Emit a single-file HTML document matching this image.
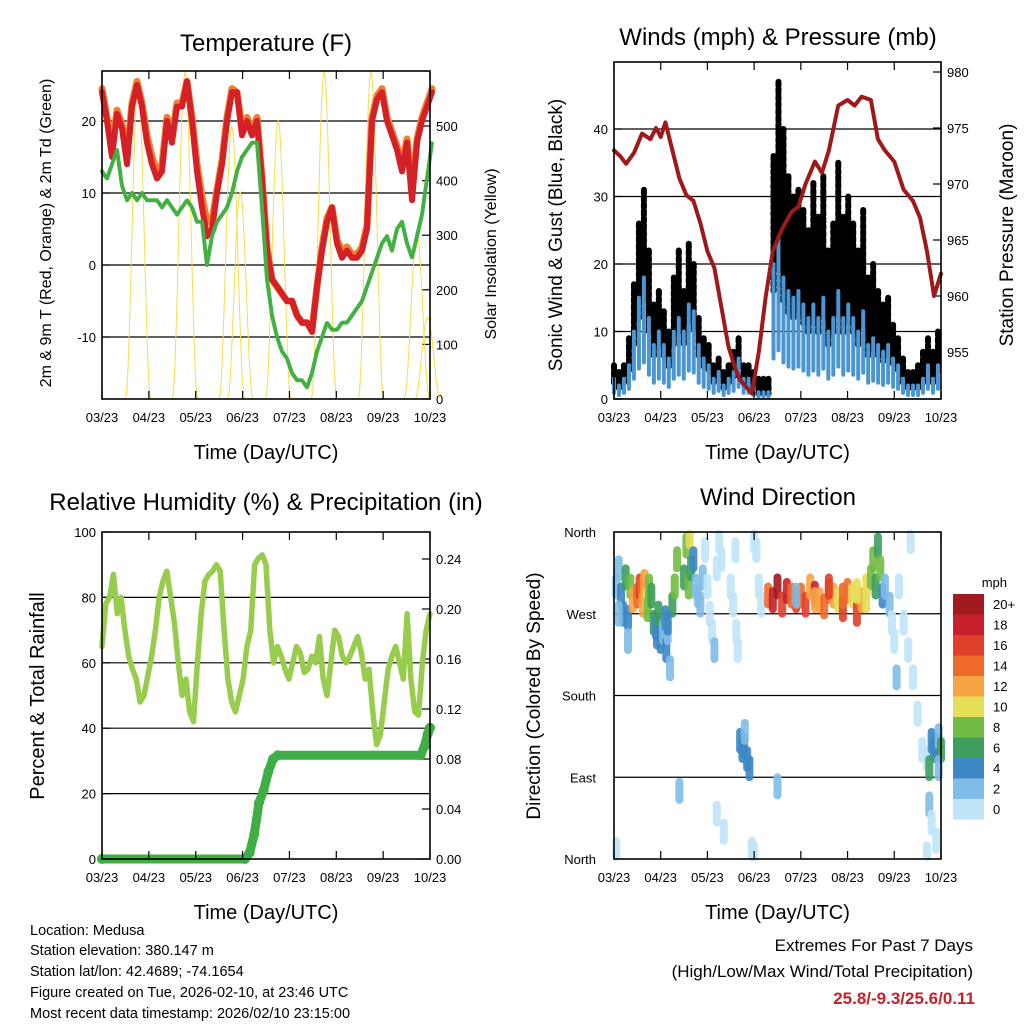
<!DOCTYPE html>
<html><head><meta charset="utf-8"><style>
html,body{margin:0;padding:0;background:#fff;}
svg{display:block;font-family:"Liberation Sans",Arial,sans-serif;}
</style></head><body>
<svg id="chart" width="1024" height="1024" viewBox="0 0 1024 1024" xmlns="http://www.w3.org/2000/svg">
<rect width="1024" height="1024" fill="#fff"/>
<g id="g1"></g>
<g id="g2"></g>
<g id="g3"></g>
<g id="g4"></g>
<g font-size="14.5" fill="#000">
<text x="30" y="935">Location: Medusa</text>
<text x="30" y="955">Station elevation: 380.147 m</text>
<text x="30" y="976">Station lat/lon: 42.4689; -74.1654</text>
<text x="30" y="997">Figure created on Tue, 2026-02-10, at 23:46 UTC</text>
<text x="30" y="1018">Most recent data timestamp: 2026/02/10 23:15:00</text>
</g>
<g text-anchor="end">
<text x="973" y="951" font-size="17">Extremes For Past 7 Days</text>
<text x="973" y="977" font-size="17">(High/Low/Max Wind/Total Precipitation)</text>
<text x="975" y="1004" font-size="17" font-weight="bold" fill="#c8202a">25.8/-9.3/25.6/0.11</text>
</g>
</svg>
<script>
// ---------- data ----------
const xTickLabels = ["03/23","04/23","05/23","06/23","07/23","08/23","09/23","10/23"];
const STEP = 0.1067; // months per sample
const tempRed = [24,20,15,21,19,14,22,25,22,17,14,12,13,20,17,22,22,25.5,20,13,8,4,5,10,14,20,24,24,18,20,18,20,12,2,-2,-3,-4,-5,-5,-7,-8,-8,-9.3,-3,2,6,8,3,1,2,1,1,2,5,20,23,24,20,18,16,13,17,9,17,20,22,24];
const tempOrange = [24.5,20.5,16,21.5,19.5,15,22.5,25.5,22.5,18,15,13,14,20.5,18,22.5,22.5,25.5,20.5,14,9.5,6,6,10.5,14.5,20.5,24.5,24,19,20.5,18.5,20.5,12,2.5,-2,-3,-4,-5,-5,-7,-8,-8,-9,-3,2.5,6.5,8,3.5,2,2.5,1.5,1.5,2.5,5.5,20.5,23.5,24.5,20.5,18.5,16.5,14,17.5,10,17.5,20.5,22.5,24.5];
const tempDew = [13,12,14,16,11,9,10,9,10,9,9,9,8,9,8,7,8,9,8,6,6,0,4,6,7,8,10,13,15,16,17,17,8,-2,-7,-10,-12,-13,-15,-16,-16,-17,-15,-12,-10,-8,-9,-9,-8,-8,-7,-6,-5,-3,-1,1,3,4,2,5,6,3,1,4,7,12,17];
const solarPeakT = [0.77,1.77,2.77,3.76,4.74,5.74,6.72,2.95,6.95];
const solarPeakV = [580,600,500,510,600,600,300,380,150];
const windAvg = [3,2,3,5,10,15,18,12,8,10,8,6,10,12,10,14,13,8,6,5,3,4,2,3,4,6,3,3,2,1,1,1,20,24,18,16,15,16,14,12,14,12,15,10,12,16,12,14,12,10,13,8,9,8,7,8,6,5,3,2,2,2,3,5,3,5];
const windGust = [5,4,5,9,17,26,31,22,14,16,13,10,18,22,16,23,20,12,9,8,5,6,4,5,7,9,5,5,4,3,3,3,36,47,40,33,30,31,28,25,32,27,33,22,26,35,27,30,26,22,28,18,20,16,14,15,11,9,6,4,4,5,7,9,7,10];
const pressT = [0,0.13,0.26,0.43,0.6,0.78,0.9,1.0,1.1,1.25,1.4,1.55,1.7,1.85,2.0,2.15,2.3,2.45,2.6,2.7,2.95,3.1,3.25,3.4,3.6,3.8,3.95,4.1,4.3,4.45,4.6,4.8,5.0,5.15,5.3,5.5,5.65,5.8,6.0,6.2,6.4,6.55,6.7,6.85,7.0];
const pressV = [973,972.5,971.8,972.8,974.5,974,975,974.2,975.5,973,970.5,969,968.5,966.5,964,962.5,959,955.5,953.5,952.5,951.3,955,960,964,966,967.5,968,970,972,971,973,977,977.5,977,977.8,977.5,974,973,972,969.5,968.5,967,964,960,962];
const rhVals = [65,78,80,87,75,80,70,62,58,55,48,50,56,62,70,80,85,88,80,72,60,50,55,45,42,60,75,85,87,88,90,88,70,55,48,45,50,55,65,70,90,92,93,90,70,60,65,62,58,55,60,65,63,57,58,62,60,68,55,50,60,70,68,62,60,62,65,68,63,55,58,45,35,38,48,58,62,65,60,55,75,55,45,44,60,70,75];
const precipT = [0,3.05,3.15,3.25,3.35,3.45,3.55,3.65,3.75,6.8,6.88,6.95,7.0];
const precipV = [0,0,0.005,0.02,0.045,0.055,0.07,0.08,0.083,0.083,0.09,0.1,0.105];
const dirT = [0.05,0.1,0.15,0.2,0.25,0.3,0.3,0.35,0.4,0.5,0.55,0.6,0.62,0.65,0.7,0.72,0.75,0.8,0.85,0.9,0.92,0.95,1.0,1.05,1.1,1.12,1.15,1.2,1.25,1.3,1.35,1.5,1.55,1.6,1.62,1.65,1.7,1.75,1.8,1.85,1.9,1.95,2.0,2.05,2.1,2.15,2.2,2.25,2.3,2.5,2.55,2.6,2.62,2.65,2.7,2.75,2.78,2.8,2.85,2.9,3.0,3.05,3.1,3.15,3.3,3.4,3.5,3.6,3.7,3.8,3.9,4.0,4.1,4.2,4.3,4.4,4.5,4.6,4.7,4.8,4.9,5.0,5.1,5.2,5.3,5.4,5.5,5.55,5.6,5.65,5.7,5.75,5.8,5.9,5.95,6.0,6.05,6.1,6.2,6.3,6.35,6.4,6.5,6.6,6.7,6.75,6.8,6.85,6.9,6.95,7.0,6.95,6.9,6.8,0.05,0.1,1.15,1.4,2.2,2.35,2.95,3.0,6.7,6.75,3.5,3.9,4.3,4.6,4.9,5.2,5.4];
const dirV = [300,320,290,270,310,265,240,300,285,290,300,295,280,305,285,275,300,290,260,255,245,270,240,250,265,230,250,210,280,300,330,310,345,300,355,320,330,300,290,280,310,340,300,270,250,230,320,350,330,300,280,340,250,230,130,120,125,140,110,100,350,340,300,280,290,285,300,280,295,290,285,290,280,300,292,285,278,295,290,285,275,295,290,270,285,300,310,330,300,345,320,290,300,280,260,240,200,300,260,230,350,200,160,120,110,60,130,120,125,135,120,100,20,40,10,270,260,75,50,30,10,5,5,100,80,290,285,300,290,295,285,280];
const dirS = [2,3,4,5,6,4,3,8,12,14,16,15,13,12,10,8,9,7,6,5,4,6,4,3,5,4,3,3,6,8,8,7,9,8,10,6,4,3,2,2,2,1,1,1,1,2,1,1,1,1,1,1,1,1,4,5,4,3,5,4,1,1,1,1,14,18,20,16,19,15,17,14,16,13,18,12,14,15,12,10,16,15,11,16,13,10,8,9,7,6,8,5,3,2,1,1,2,1,1,1,1,1,1,1,1,3,4,5,4,3,6,2,1,1,1,2,4,2,1,1,1,1,1,6,2,3,12,17,14,11,10,18,13];
const cbarLabels = ["20+","18","16","14","12","10","8","6","4","2","0"];
const cbarColors = ["#a11a1e","#c8202a","#e0402a","#ee6a2b","#f6a443","#e6de56","#72bb44","#3d9e5c","#3d87c4","#7fbde6","#bfe4f8"];

// ---------- helpers ----------
const NS = "http://www.w3.org/2000/svg";
function mk(parent, tag, attrs, text) {
  const e = document.createElementNS(NS, tag);
  for (const k in attrs) e.setAttribute(k, attrs[k]);
  if (text !== undefined) e.textContent = text;
  parent.appendChild(e);
  return e;
}
function frame(g, x0, y0, x1, y1) {
  const r = mk(g, "rect", {x:x0, y:y0, width:x1-x0, height:y1-y0, fill:"none", stroke:"#000", "stroke-width":1.6});
  
  
}
function xAxis(g, X, y0, y1, nm) {
  for (let i = 0; i < xTickLabels.length; i++) {
    const x = X(i);
    mk(g, "line", {x1:x, x2:x, y1:y1, y2:y1-8, stroke:"#000", "stroke-width":1.2});
    mk(g, "line", {x1:x, x2:x, y1:y0, y2:y0+8, stroke:"#000", "stroke-width":1.2});
    const t = mk(g, "text", {x:x, y:y1+23, "font-size":13, "text-anchor":"middle"}, xTickLabels[i]);
    
    
  }
  const ti = mk(g, "text", {x:(X(0)+X(7))/2, y:y1+60, "font-size":20, "text-anchor":"middle"}, "Time (Day/UTC)");
  
  
}
function yTicks(g, vals, Y, x, side, fmt, grid, x1) {
  vals.forEach(v => {
    const y = Y(v);
    if (grid) mk(g, "line", {x1:x, x2:x1, y1:y, y2:y, stroke:"#000", "stroke-width":1.2});
    mk(g, "line", {x1:x, x2:x + (side==="left"?8:-8), y1:y, y2:y, stroke:"#000", "stroke-width":1.2});
    const t = mk(g, "text", {x: side==="left"? x-6 : x+6, y:y+5, "font-size":13, "text-anchor": side==="left"?"end":"start"}, fmt(v));
    
    
  });
}
function vTitle(g, x, y, txt, size, nm) {
  const t = mk(g, "text", {x:x, y:y, "font-size":size, "text-anchor":"middle", transform:`rotate(-90 ${x} ${y})`}, txt);
  
  
}
function title(g, x, y, txt, nm) {
  const t = mk(g, "text", {x:x, y:y, "font-size":24, "text-anchor":"middle"}, txt);
  
  
}
function poly(g, pts, stroke, w, nm) {
  const p = mk(g, "polyline", {points: pts.map(p=>p[0].toFixed(1)+","+p[1].toFixed(1)).join(" "), fill:"none", stroke:stroke, "stroke-width":w, "stroke-linejoin":"round", "stroke-linecap":"round"});
  
  
  return p;
}
function spdColor(s) {
  const idx = Math.min(10, Math.max(0, Math.floor(s/2)));
  return cbarColors[10 - idx];
}

// ---------- panel 1: temperature ----------
(function(){
  const g = document.getElementById("g1");
  const X = t => 102 + t*46.86;
  const Y = v => 265 - v*7.2;
  const YS = v => 399 - v*0.546;
  yTicks(g, [-10,0,10,20], Y, 102, "left", v=>String(v), true, 430);
  yTicks(g, [0,100,200,300,400,500], YS, 430, "right", v=>String(v), false);
  solarPeakT.forEach((t,i) => {
    const v = solarPeakV[i];
    const pts = [];
    for (let k = -10; k <= 10; k++) {
      const dt = k*0.027;
      const f = Math.max(0, Math.cos(dt/0.27*Math.PI/2));
      pts.push([X(t+dt), YS(v*f*f)]);
    }
    poly(g, pts, "#f7dc4a", 1, 'solar-insolation-line');
  });
  poly(g, tempOrange.map((v,i)=>[X(i*STEP), Y(v)]), "#f08030", 7, 'temp-9m-orange-line');
  poly(g, tempRed.map((v,i)=>[X(i*STEP), Y(v)]), "#d42027", 6, 'temp-2m-red-line');
  poly(g, tempDew.map((v,i)=>[X(i*STEP), Y(v)]), "#44b044", 4, 'dewpoint-green-line').setAttribute("stroke-dasharray","3 1.5");
  frame(g, 102, 71, 430, 399);
  xAxis(g, X, 71, 399, 'x-axis-title');
  title(g, 266, 51, "Temperature (F)", 'temperature-title');
  vTitle(g, 51, 233, "2m & 9m T (Red, Orange) & 2m Td (Green)", 16, 'y-axis-title');
  vTitle(g, 496, 254, "Solar Insolation (Yellow)", 16, 'y2-axis-title');
})();

// ---------- panel 2: winds ----------
(function(){
  const g = document.getElementById("g2");
  const X = t => 614 + t*46.71;
  const Y = v => 399 - v*6.75;
  const YP = p => 352 - (p-955)*11.2;
  yTicks(g, [0,10,20,30,40], Y, 614, "left", v=>String(v), true, 941);
  yTicks(g, [955,960,965,970,975,980], YP, 941, "right", v=>String(v), false);
  windAvg.forEach((v,i) => {
    const x = X(i*STEP);
    const b = mk(g, "line", {x1:x, x2:x, y1:Y(windGust[i]), y2:Y(v*0.8), stroke:"#000", "stroke-width":6, "stroke-linecap":"round", "stroke-dasharray":"4 3"});
    
    
  });
  windAvg.forEach((v,i) => {
    const x = X(i*STEP);
    const b = mk(g, "line", {x1:x, x2:x, y1:Y(v), y2:Y(v*0.3), stroke:"#4a95d2", "stroke-width":4, "stroke-linecap":"round"});
    
    
  });
  poly(g, pressT.map((t,i)=>[X(t), YP(pressV[i])]), "#9e1a1a", 4, 'pressure-line');
  frame(g, 614, 62, 941, 399);
  xAxis(g, X, 62, 399, 'x-axis-title');
  title(g, 778, 45, "Winds (mph) & Pressure (mb)", 'winds-title');
  vTitle(g, 562, 235, "Sonic Wind & Gust (Blue, Black)", 19, 'y-axis-title');
  vTitle(g, 1013, 235, "Station Pressure (Maroon)", 19, 'y2-axis-title');
})();

// ---------- panel 3: humidity ----------
(function(){
  const g = document.getElementById("g3");
  const X = t => 102 + t*46.86;
  const Y = v => 859 - v*3.27;
  const YR = v => 859 - v*1250;
  yTicks(g, [20,40,60,80], Y, 102, "left", v=>String(v), true, 430);
  yTicks(g, [0,100], Y, 102, "left", v=>String(v), false);
  yTicks(g, [0,0.04,0.08,0.12,0.16,0.20,0.24], YR, 430, "right", v=>v.toFixed(2), false);
  const step = 7/(rhVals.length-1);
  poly(g, rhVals.map((v,i)=>[X(i*step), Y(v)]), "#98cc4c", 5.5, 'relative-humidity-line');
  poly(g, precipT.map((t,i)=>[X(t), YR(precipV[i])]), "#3fae45", 9, 'precipitation-line');
  precipT.forEach((t,i) => {
    const c = mk(g, "circle", {cx:X(t), cy:YR(precipV[i]), r:5, fill:"#3fae45"});
    
    
  });
  frame(g, 102, 532, 430, 859);
  xAxis(g, X, 532, 859, 'x-axis-title');
  title(g, 266, 510, "Relative Humidity (%) & Precipitation (in)", 'humidity-title');
  vTitle(g, 44, 696, "Percent & Total Rainfall", 20, 'y-axis-title');
})();

// ---------- panel 4: wind direction ----------
(function(){
  const g = document.getElementById("g4");
  const X = t => 614 + t*46.71;
  const Y = d => 859 - d*327/360;
  const dirTicks = [360,270,180,90,0];
  const dirNames = ["North","West","South","East","North"];
  dirTicks.forEach((d,i) => {
    const y = Y(d);
    if (d>0 && d<360) mk(g, "line", {x1:614, x2:941, y1:y, y2:y, stroke:"#000", "stroke-width":1.2});
    const t = mk(g, "text", {x:596, y:y+5, "font-size":13, "text-anchor":"end"}, dirNames[i]);
    
    
  });
  dirT.forEach((t,i) => {
    const y = Y(dirV[i]);
    const c = mk(g, "line", {x1:X(t), x2:X(t), y1:Math.max(534,y-9), y2:Math.min(857,y+9), stroke:spdColor(dirS[i]), "stroke-width":8, "stroke-linecap":"round", "stroke-opacity":0.9});
    
    
  });
  frame(g, 614, 532, 941, 859);
  xAxis(g, X, 532, 859, 'x-axis-title');
  title(g, 778, 505, "Wind Direction", 'wind-direction-title');
  vTitle(g, 540, 696, "Direction (Colored By Speed)", 19, 'y-axis-title');
  const u = mk(g, "text", {x:1007, y:587, "font-size":13, "text-anchor":"end"}, "mph");
  
  
  cbarColors.forEach((c,i) => {
    const y0 = 594 + i*20.5;
    const r = mk(g, "rect", {x:953, y:y0, width:31, height:20.5, fill:c});
    
    
    const t = mk(g, "text", {x:993, y:y0+15, "font-size":13}, cbarLabels[i]);
    
    
  });
})();
</script>
</body></html>
